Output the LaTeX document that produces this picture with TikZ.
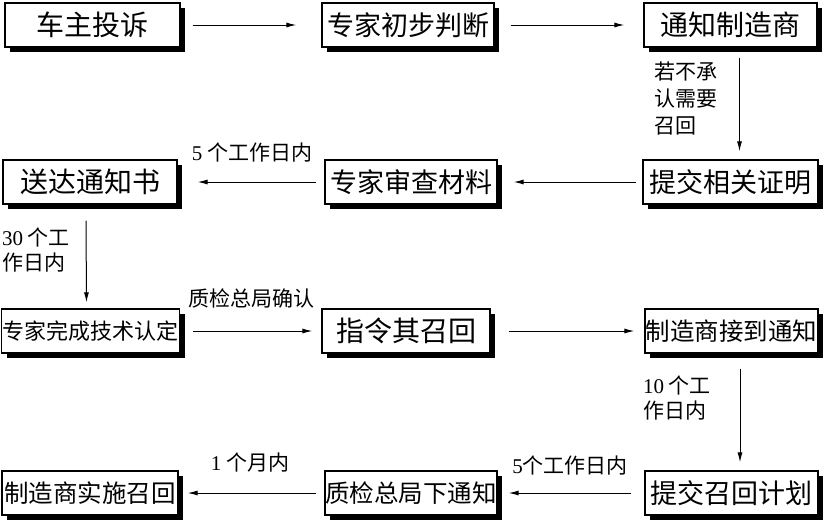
\documentclass[tikz,border=0pt]{standalone}
\usepackage{fontspec}
\setmainfont{Liberation Serif}
\newfontfamily\cjk{Noto Sans CJK SC}
\usetikzlibrary{arrows.meta,shadows}
\newcommand\dg[1]{{\rmfamily #1}}
\begin{document}
\begin{tikzpicture}[x=1pt,y=-1pt,
  box/.style={draw,line width=1.3pt,fill=white,inner sep=0pt,minimum height=44pt,
    font=\cjk\fontsize{28}{32}\selectfont,
    drop shadow={shadow xshift=5pt,shadow yshift=-5pt,opacity=1,fill=black}},
  six/.style={font=\cjk\fontsize{27}{32}\selectfont},
  seven/.style={font=\cjk\fontsize{24.5}{30}\selectfont},
  eight/.style={font=\cjk\fontsize{22}{28}\selectfont},
  lab/.style={inner sep=0pt,font=\cjk\fontsize{21}{25}\selectfont},
  arr/.style={line width=1pt,-{Latex[length=10pt,width=5pt]}}]
\fill[white] (0,0) rectangle (824,523);
\useasboundingbox (0,0) rectangle (824,523);
% row 1
\node[box,minimum width=175pt] (a1) at (92.5,25) {车主投诉};
\node[box,six,minimum width=172pt] (a2) at (408,25) {专家初步判断};
\node[box,minimum width=173pt] (a3) at (730.5,25) {通知制造商};
% row 2
\node[box,minimum width=174pt] (b1) at (90,182) {送达通知书};
\node[box,six,minimum width=172pt] (b2) at (411,182) {专家审查材料};
\node[box,six,minimum width=175pt] (b3) at (730.5,182) {提交相关证明};
% row 3
\node[box,eight,minimum width=178pt] (c1) at (90.5,331) {专家完成技术认定};
\node[box,minimum width=168pt] (c2) at (406,331) {指令其召回};
\node[box,seven,minimum width=173pt] (c3) at (731.5,331) {制造商接到通知};
% row 4
\node[box,seven,minimum width=176pt] (d1) at (90,493) {制造商实施召回};
\node[box,seven,minimum width=172pt] (d2) at (411,493) {质检总局下通知};
\node[box,six,minimum width=173pt] (d3) at (731.5,493) {提交召回计划};
% arrows
\draw[arr] ([xshift=12pt]a1.east) -- ([xshift=-25pt]a2.west);
\draw[arr] ([xshift=16pt]a2.east) -- ([xshift=-19pt]a3.west);
\draw[arr] ([xshift=9pt,yshift=-10pt]a3.south) -- ([xshift=9pt,yshift=8pt]b3.north);
\draw[arr] ([xshift=-6pt]b3.west) -- ([xshift=16pt]b2.east);
\draw[arr] ([xshift=-8pt]b2.west) -- ([xshift=20pt]b1.east);
\draw[arr] ([xshift=-4pt,yshift=-16pt]b1.south) -- ([xshift=-4pt,yshift=6pt]c1.north);
\draw[arr] ([xshift=13pt]c1.east) -- ([xshift=-9pt]c2.west);
\draw[arr] ([xshift=18pt]c2.east) -- ([xshift=-10pt]c3.west);
\draw[arr] ([xshift=8.5pt,yshift=-15pt]c3.south) -- ([xshift=8.5pt,yshift=8pt]d3.north);
\draw[arr] ([xshift=-13pt]d3.west) -- ([xshift=11pt]d2.east);
\draw[arr] ([xshift=-8pt]d2.west) -- ([xshift=9pt]d1.east);
% labels
\node[lab,anchor=west,align=left,font=\cjk\fontsize{21}{27}\selectfont] (l1) at (654,99) {若不承\\认需要\\召回};
\node[lab] (l2) at (252,153) {\dg{5} 个工作日内};
\node[lab,anchor=west,align=left] (l3) at (2,250) {\dg{30} 个工\\作日内};
\node[lab] (l4) at (251,298) {质检总局确认};
\node[lab,anchor=west,align=left] (l5) at (643,398) {\dg{10} 个工\\作日内};
\node[lab] (l6) at (570,466) {\dg{5}个工作日内};
\node[lab] (l7) at (250,463) {\dg{1} 个月内};
\end{tikzpicture}
\end{document}
